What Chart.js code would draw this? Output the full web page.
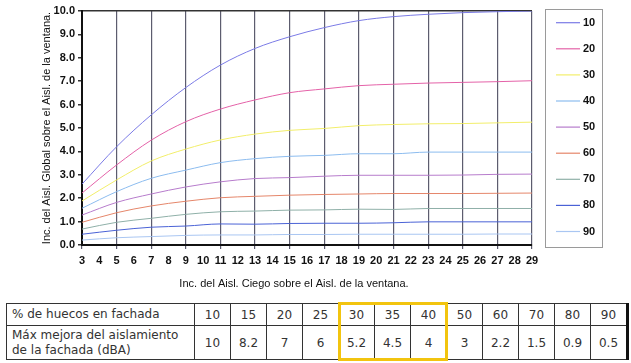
<!DOCTYPE html>
<html>
<head>
<meta charset="utf-8">
<script src="https://cdn.jsdelivr.net/npm/chart.js@4.4.1/dist/chart.umd.min.js"></script>
<style>
  body { margin: 0; background: #fff; }
  #wrap { position: relative; width: 631px; height: 363px; }
  #chartBox { position: absolute; left: 0; top: 0; width: 631px; height: 300px; }
  #tbl {
    position: absolute; left: 6px; top: 303px;
    border-collapse: collapse;
    font-family: 'DejaVu Sans', Verdana, sans-serif; font-size: 12px; color: #333;
  }
  #tbl td { border: 1px solid #333; text-align: center; padding: 0; width: 35px; }
  #tbl td.head { text-align: left; width: 182px; padding-left: 5px; line-height: 15px; }
  #tbl tr.r1 td { height: 21px; }
  #tbl tr.r2 td { height: 33px; }
  #tbl td.last { border-right: 3px solid #111; }
  #hl { position: absolute; border: 3px solid #f2c40f; box-sizing: border-box; }
</style>
</head>
<body>
<div id="wrap">
  <div id="chartBox"><canvas id="chart"></canvas></div>
  <table id="tbl"></table>
  <div id="hl"></div>
</div>
<script>
// x positions (odd values, where the curves have their vertices)
const xValues = [3, 5, 7, 9, 11, 13, 15, 17, 19, 21, 23, 25, 27, 29];

const seriesLabels = ['10', '20', '30', '40', '50', '60', '70', '80', '90'];

const s10 = [2.6, 4.2, 5.56, 6.73, 7.69, 8.4, 8.9, 9.29, 9.59, 9.76, 9.86, 9.93, 9.97, 10.0];
const s20 = [2.22, 3.42, 4.48, 5.27, 5.81, 6.2, 6.51, 6.67, 6.81, 6.87, 6.92, 6.95, 6.98, 7.02];
const s30 = [1.88, 2.78, 3.59, 4.1, 4.49, 4.74, 4.9, 4.98, 5.1, 5.15, 5.18, 5.19, 5.22, 5.25];
const s40 = [1.57, 2.28, 2.85, 3.2, 3.52, 3.69, 3.79, 3.83, 3.9, 3.9, 3.97, 3.97, 3.97, 3.97];
const s50 = [1.28, 1.82, 2.18, 2.48, 2.7, 2.84, 2.88, 2.94, 2.98, 2.98, 2.98, 2.99, 3.02, 3.03];
const s60 = [0.97, 1.38, 1.67, 1.87, 2.02, 2.08, 2.13, 2.16, 2.18, 2.2, 2.2, 2.2, 2.21, 2.22];
const s70 = [0.68, 0.97, 1.14, 1.31, 1.42, 1.45, 1.49, 1.5, 1.53, 1.52, 1.56, 1.56, 1.56, 1.56];
const s80 = [0.46, 0.63, 0.76, 0.81, 0.9, 0.89, 0.92, 0.93, 0.93, 0.95, 0.99, 0.99, 0.99, 0.99];
const s90 = [0.21, 0.31, 0.36, 0.41, 0.43, 0.43, 0.45, 0.45, 0.46, 0.46, 0.46, 0.46, 0.47, 0.47];

// table under the chart
const huecos = ['10', '15', '20', '25', '30', '35', '40', '50', '60', '70', '80', '90'];
const mejora = ['10', '8.2', '7', '6', '5.2', '4.5', '4', '3', '2.2', '1.5', '0.9', '0.5'];
const highlighted = ['30', '35', '40'];

const allSeries = [s10, s20, s30, s40, s50, s60, s70, s80, s90];
const palette = ['#7b7be6', '#e462a8', '#f2ee6a', '#8cbcef', '#b77ccc', '#e5866a', '#8fb0a8', '#4a62d6', '#a9c6f2'];

const FONT = "'Liberation Sans', Arial, sans-serif";

// legend in a bordered box + x axis title, drawn on the canvas
const boxLegend = {
  id: 'boxLegend',
  afterDraw(chart) {
    const ctx = chart.ctx;
    ctx.save();
    ctx.strokeStyle = '#9a9a9a';
    ctx.lineWidth = 1;
    ctx.strokeRect(545.5, 9.5, 57, 238);
    ctx.font = 'bold 11px ' + FONT;
    ctx.textBaseline = 'middle';
    ctx.textAlign = 'left';
    chart.data.datasets.forEach((ds, i) => {
      const y = 22.7 + i * 26.1;
      ctx.strokeStyle = ds.borderColor;
      ctx.lineWidth = 1.2;
      ctx.beginPath();
      ctx.moveTo(556, y);
      ctx.lineTo(580, y);
      ctx.stroke();
      ctx.fillStyle = '#111';
      ctx.fillText(ds.label, 583, y);
    });
    ctx.font = '11px ' + FONT;
    ctx.textAlign = 'center';
    ctx.fillStyle = '#111';
    ctx.fillText('Inc. del Aisl. Ciego sobre el Aisl. de la ventana.', 294, 284);
    ctx.restore();
  }
};

const ctx = document.getElementById('chart').getContext('2d');
new Chart(ctx, {
  type: 'line',
  data: {
    datasets: seriesLabels.map((lbl, i) => ({
      label: lbl,
      data: xValues.map((x, j) => ({ x: x, y: allSeries[i][j] })),
      borderColor: palette[i],
      borderWidth: 1,
      pointRadius: 0,
      fill: false,
      cubicInterpolationMode: 'monotone'
    }))
  },
  options: {
    responsive: true,
    maintainAspectRatio: false,
    animation: false,
    layout: { padding: { left: 0, right: 99, top: 11, bottom: 0 } },
    plugins: {
      legend: { display: false },
      tooltip: { enabled: false }
    },
    scales: {
      x: {
        type: 'linear',
        min: 3,
        max: 29,
        afterFit: s => { s.height = 55; },
        ticks: {
          stepSize: 1,
          autoSkip: false,
          maxRotation: 0,
          padding: 5,
          color: '#111',
          font: { family: FONT, size: 11, weight: 'bold' }
        },
        grid: {
          color: c => (c.tick && c.tick.value % 2 === 1) ? '#5c5c6e' : 'rgba(0,0,0,0)',
          tickColor: c => (c.tick && c.tick.value % 2 === 1) ? '#5c5c6e' : 'rgba(0,0,0,0)',
          tickLength: 4,
          lineWidth: 1.2
        },
        border: { color: '#111', width: 2 }
      },
      y: {
        min: 0,
        max: 10,
        afterFit: s => { s.width = 82; },
        ticks: {
          stepSize: 1,
          padding: 3,
          color: '#111',
          font: { family: FONT, size: 11, weight: 'bold' },
          callback: v => v.toFixed(1)
        },
        grid: {
          color: c => (c.tick && c.tick.value === 10) ? '#333' : 'rgba(0,0,0,0)',
          tickColor: '#333',
          tickLength: 4,
          lineWidth: 1.5
        },
        border: { color: '#111', width: 2 },
        title: {
          display: true,
          text: 'Inc. del Aisl. Global sobre el Aisl. de la ventana.',
          color: '#111',
          font: { family: FONT, size: 11 },
          padding: { top: 40, bottom: 0 }
        }
      }
    }
  },
  plugins: [boxLegend]
});

// build the table
const tbl = document.getElementById('tbl');
function addRow(cls, head, vals) {
  const tr = document.createElement('tr');
  tr.className = cls;
  const th = document.createElement('td');
  th.className = 'head';
  th.innerHTML = head;
  tr.appendChild(th);
  vals.forEach((v, i) => {
    const td = document.createElement('td');
    td.textContent = v;
    if (i === vals.length - 1) td.className = 'last';
    tr.appendChild(td);
  });
  tbl.appendChild(tr);
  return tr;
}
const row1 = addRow('r1', '% de huecos en fachada', huecos);
addRow('r2', 'Máx mejora del aislamiento<br>de la fachada (dBA)', mejora);

// yellow frame around the highlighted columns
const wrapRect = document.getElementById('wrap').getBoundingClientRect();
const tblRect = tbl.getBoundingClientRect();
const firstCell = row1.children[huecos.indexOf(highlighted[0]) + 1].getBoundingClientRect();
const lastCell = row1.children[huecos.indexOf(highlighted[highlighted.length - 1]) + 1].getBoundingClientRect();
const hl = document.getElementById('hl');
hl.style.left = (firstCell.left - wrapRect.left - 1) + 'px';
hl.style.top = (tblRect.top - wrapRect.top - 1) + 'px';
hl.style.width = (lastCell.right - firstCell.left + 2) + 'px';
hl.style.height = (tblRect.height + 2) + 'px';
</script>
</body>
</html>
